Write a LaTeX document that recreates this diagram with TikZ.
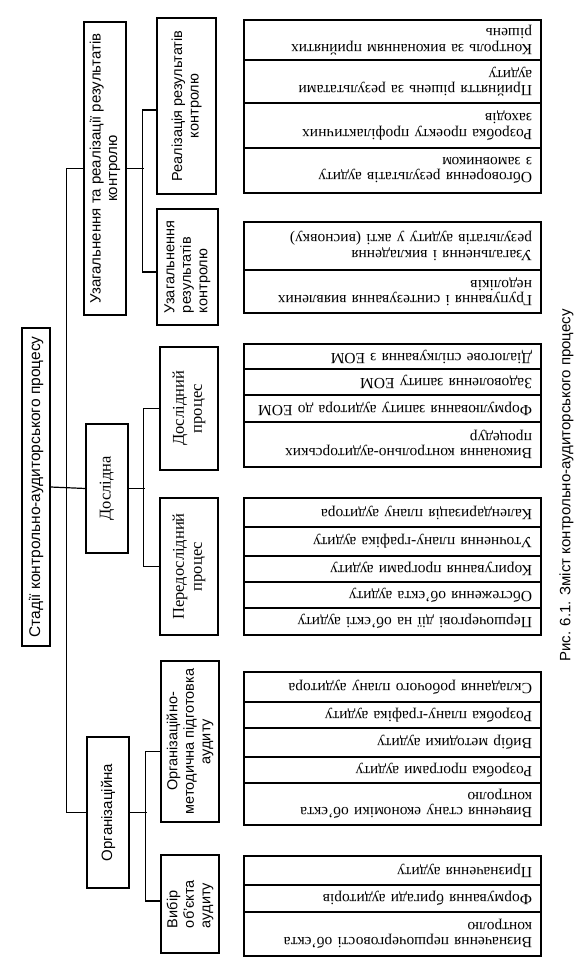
\documentclass[tikz,border=0pt]{standalone}
\usepackage{fontspec}
\setmainfont{Liberation Serif}
\newfontfamily\uasans{Liberation Sans}

\begin{document}
\begin{tikzpicture}[x=1pt, y=-1pt, line width=1.2pt,
    box/.style={draw, rotate=90, align=center, inner sep=1pt},
    sbox/.style={box, font=\uasans\fontsize{14.5}{16.5}\selectfont},
    rbox/.style={box, font=\fontsize{16.5}{18}\selectfont},
    row/.style={draw, rotate=180, minimum width=297pt, text width=279pt, inner xsep=9pt, inner ysep=0pt, align=left, font=\fontsize{15.5}{15.5}\selectfont}]
    \useasboundingbox (0,0) rectangle (585,958);
    % stages
    \node[sbox, font=\uasans\fontsize{15.5}{16.5}\selectfont, minimum width=318pt, minimum height=28pt] (root) at (36,487) {Стадії контрольно-аудиторського процесу};
    \node[sbox, font=\uasans\fontsize{15}{16.5}\selectfont, minimum width=293pt, minimum height=42pt] (uzag) at (105,168.5) {Узагальнення та реалізації результатів\\контролю};
    \node[rbox, minimum width=129pt, minimum height=42pt] (dosl) at (107,488.5) {Дослідна};
    \node[sbox, font=\uasans\fontsize{15}{16.5}\selectfont, minimum width=151pt, minimum height=42pt] (org) at (108,812.5) {Організаційна};
    % substages
    \node[sbox, minimum width=176pt, minimum height=59pt] (realiz) at (186.5,106) {Реалізація результатів\\контролю};
    \node[sbox, minimum width=116pt, minimum height=61pt, align=left] (uzres) at (187.5,267) {Узагальнення\\результатів\\контролю};
    \node[rbox, minimum width=123pt, minimum height=58pt] (doslp) at (189,408.5) {Дослідний\\процес};
    \node[rbox, minimum width=137pt, minimum height=58pt] (pered) at (189,566.5) {Передослідний\\процес};
    \node[sbox, minimum width=161pt, minimum height=58pt] (ormet) at (190,741.5) {Організаційно-\\методична підготовка\\аудиту};
    \node[sbox, minimum width=98pt, minimum height=58pt, align=left] (vybir) at (190,904) {Вибір\\об’єкта\\аудиту};
    % content rows
    \node[row, minimum height=40pt] (r1) at (392.5,40) {Контроль за виконанням прийнятих\\рішень};
    \node[row, minimum height=43pt] (r2) at (392.5,81.5) {Прийняття рішень за результатами\\аудиту};
    \node[row, minimum height=45pt] (r3) at (392.5,125.5) {Розробка проекту профілактичних\\заходів};
    \node[row, minimum height=45pt] (r4) at (392.5,170.5) {Обговорення результатів аудиту\\з замовником};
    \node[row, minimum height=48pt] (u1) at (392.5,246) {Узагальнення і викладення\\результатів аудиту у акті (висновку)};
    \node[row, minimum height=43pt] (u2) at (392.5,291.5) {Групування і синтезування виявлених\\недоліків};
    \node[row, minimum height=25pt] (d1) at (392.5,356.5) {Діалогове спілкування з ЕОМ};
    \node[row, minimum height=26pt] (d2) at (392.5,382) {Задоволення запиту ЕОМ};
    \node[row, minimum height=27pt] (d3) at (392.5,408.5) {Формулювання запиту аудитора до ЕОМ};
    \node[row, minimum height=45pt] (d4) at (392.5,444.5) {Виконання контрольно-аудиторських\\процедур};
    \node[row, minimum height=29pt] (p1) at (392.5,512.5) {Календаризація плану аудитора};
    \node[row, minimum height=29pt] (p2) at (392.5,541.5) {Уточнення плану-графіка аудиту};
    \node[row, minimum height=26pt] (p3) at (392.5,569) {Коригування програми аудиту};
    \node[row, minimum height=26pt] (p4) at (392.5,595) {Обстеження об’єкта аудиту};
    \node[row, minimum height=27pt] (p5) at (392.5,621.5) {Першочергові дії на об’єкті аудиту};
    \node[row, minimum height=30pt] (m1) at (392.5,687) {Складання робочого плану аудитора};
    \node[row, minimum height=26pt] (m2) at (392.5,715) {Розробка плану-графіка аудиту};
    \node[row, minimum height=29pt] (m3) at (392.5,742.5) {Вибір методики аудиту};
    \node[row, minimum height=26pt] (m4) at (392.5,770) {Розробка програми аудиту};
    \node[row, minimum height=42pt] (m5) at (392.5,804) {Вивчення стану економіки об’єкта\\контролю};
    \node[row, minimum height=29pt] (v1) at (392.5,870.5) {Призначення аудиту};
    \node[row, minimum height=27pt] (v2) at (392.5,898.5) {Формування бригади аудиторів};
    \node[row, minimum height=44pt] (v3) at (392.5,934) {Визначення першочерговості об’єкта\\контролю};
    % caption
    \node[rotate=90, font=\uasans\fontsize{15}{16}\selectfont] (caption) at (566.5,485.5) {Рис. 6.1. Зміст контрольно-аудиторського процесу};
    % links
    \draw (root.south) -- (dosl.north);
    \draw (uzag.north) -- ++(-17,0) |- (org.north);
    \draw (uzag.south) -- ++(17,0);
    \draw ([yshift=-4pt]realiz.north) -- ++(-14,0) |- ([yshift=-5pt]uzres.north);
    \draw (dosl.south) -- ++(16,0);
    \draw (doslp.north) -- ++(-16,0) |- (pered.north);
    \draw (org.south) -- ++(17,0);
    \draw ([yshift=-10pt]ormet.north) -- ++(-15,0) |- ([yshift=3pt]vybir.north);
\end{tikzpicture}
\end{document}
